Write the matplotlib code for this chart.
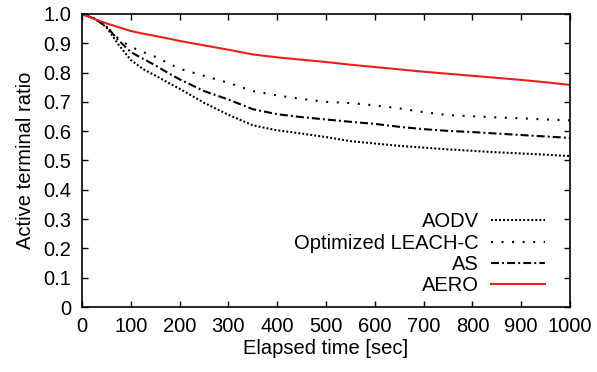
import matplotlib
matplotlib.use('Agg')
import matplotlib.pyplot as plt

plt.rcParams['font.family'] = ['Liberation Sans', 'DejaVu Sans']
plt.rcParams['lines.scale_dashes'] = False

# elapsed time [sec]
t = [0, 25, 50, 75, 100, 125, 150, 175, 200, 250, 300, 350, 400, 450, 500,
     550, 600, 650, 700, 750, 800, 850, 900, 950, 1000]

aodv = [1.0, 0.985, 0.955, 0.895, 0.843, 0.812, 0.79, 0.767, 0.745, 0.697, 0.656, 0.62,
        0.603, 0.592, 0.58, 0.566, 0.558, 0.55, 0.544, 0.538, 0.533, 0.528, 0.524, 0.52, 0.515]
leach = [1.0, 0.985, 0.958, 0.915, 0.888, 0.87, 0.854, 0.834, 0.813, 0.789, 0.765, 0.737,
         0.722, 0.71, 0.70, 0.696, 0.688, 0.678, 0.665, 0.655, 0.651, 0.647, 0.644, 0.64, 0.637]
as_ = [1.0, 0.985, 0.957, 0.91, 0.87, 0.847, 0.825, 0.8, 0.777, 0.737, 0.708, 0.675,
       0.658, 0.648, 0.64, 0.632, 0.625, 0.615, 0.607, 0.601, 0.597, 0.592, 0.587, 0.582, 0.577]
aero = [1.0, 0.983, 0.968, 0.955, 0.942, 0.933, 0.925, 0.917, 0.908, 0.893, 0.878, 0.862,
        0.852, 0.844, 0.836, 0.827, 0.819, 0.811, 0.803, 0.796, 0.789, 0.782, 0.775, 0.767, 0.758]

xticks = [0, 100, 200, 300, 400, 500, 600, 700, 800, 900, 1000]
yticks = [0, 0.1, 0.2, 0.3, 0.4, 0.5, 0.6, 0.7, 0.8, 0.9, 1.0]
ylabels = ['0', '0.1', '0.2', '0.3', '0.4', '0.5', '0.6', '0.7', '0.8', '0.9', '1.0']

fig = plt.figure(figsize=(5.97, 3.72), dpi=100)
ax = fig.add_axes([0.1374, 0.1747, 0.8174, 0.7877])

lw = 1.5
ax.plot(t, aodv, color='black', lw=lw, dashes=(1.4, 1.5), label='AODV')
ax.plot(t, leach, color='black', lw=lw, dashes=(1.4, 6.2), label='Optimized LEACH-C')
ax.plot(t, as_, color='black', lw=lw, dashes=(5.8, 2.2, 1.4, 2.2), label='AS')
ax.plot(t, aero, color='#e8201c', lw=lw, label='AERO')

ax.set_xlim(0, 1000)
ax.set_ylim(0, 1.0)
ax.set_xticks(xticks)
ax.set_yticks(yticks)
ax.set_yticklabels(ylabels)
ax.tick_params(direction='in', top=True, right=True, length=4.5, width=1,
               labelsize=14.5, pad=7.5)
for s in ax.spines.values():
    s.set_linewidth(1.2)

ax.set_xlabel('Elapsed time [sec]', fontsize=14.5, labelpad=2)
ax.set_ylabel('Active terminal ratio', fontsize=14.5, labelpad=6)

leg = ax.legend(loc='lower right', bbox_to_anchor=(0.961, 0.019), markerfirst=False,
                frameon=False, fontsize=14.5, handlelength=2.7, handletextpad=0.6,
                labelspacing=0.12, borderaxespad=0, borderpad=0.3)

fig.savefig('out.png', dpi=100)
